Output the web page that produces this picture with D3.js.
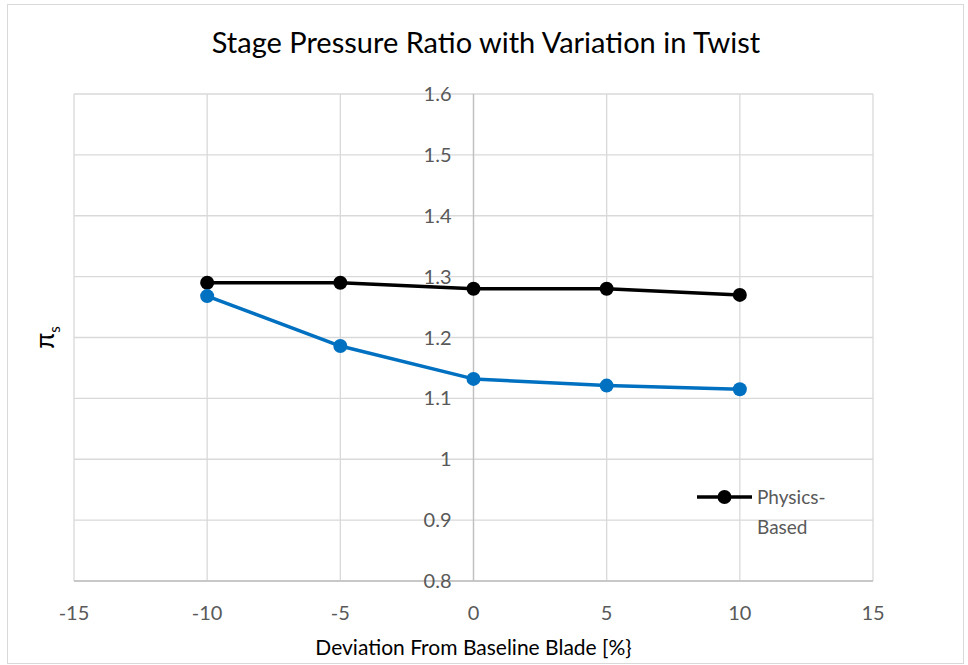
<!DOCTYPE html>
<html>
<head>
<meta charset="utf-8">
<script src="https://cdn.jsdelivr.net/npm/d3@7"></script>
<style>
  body { margin: 0; background: #fff; }
  svg { display: block; font-family: Lato, "Open Sans", sans-serif; }
</style>
</head>
<body>
<svg id="chart" width="968" height="665"></svg>
<script>
const deviation = [-10, -5, 0, 5, 10];
const physicsBased = [1.29, 1.29, 1.28, 1.28, 1.27];
const blueSeries = [1.268, 1.186, 1.132, 1.121, 1.115];
const xTicks = [-15, -10, -5, 0, 5, 10, 15];
const yTicks = [0.8, 0.9, 1, 1.1, 1.2, 1.3, 1.4, 1.5, 1.6];

const width = 968;
const height = 665;
const margin = { left: 74, right: 95, top: 94, bottom: 84 };

const svg = d3.select("#chart");

// outer chart border
svg.append("rect")
  .attr("x", 7.5).attr("y", 4.5)
  .attr("width", 956).attr("height", 659)
  .attr("fill", "#fff")
  .attr("stroke", "#d9d9d9");

const xScale = d3.scaleLinear()
  .domain([-15, 15])
  .range([margin.left, width - margin.right]);

const yScale = d3.scaleLinear()
  .domain([0.8, 1.6])
  .range([height - margin.bottom, margin.top]);

// gridlines
svg.append("g")
  .selectAll("line")
  .data(yTicks)
  .join("line")
  .attr("x1", xScale(-15)).attr("x2", xScale(15))
  .attr("y1", d => yScale(d)).attr("y2", d => yScale(d))
  .attr("stroke", "#d9d9d9").attr("stroke-width", 1.3);

svg.append("g")
  .selectAll("line")
  .data(xTicks)
  .join("line")
  .attr("x1", d => xScale(d)).attr("x2", d => xScale(d))
  .attr("y1", yScale(0.8)).attr("y2", yScale(1.6))
  .attr("stroke", "#d9d9d9").attr("stroke-width", 1.3);

// axes lines (y axis crosses at x = 0)
svg.append("line")
  .attr("x1", xScale(-15)).attr("x2", xScale(15))
  .attr("y1", yScale(0.8)).attr("y2", yScale(0.8))
  .attr("stroke", "#bfbfbf").attr("stroke-width", 1.3);

svg.append("line")
  .attr("x1", xScale(0)).attr("x2", xScale(0))
  .attr("y1", yScale(0.8)).attr("y2", yScale(1.6))
  .attr("stroke", "#bfbfbf").attr("stroke-width", 1.3);

// tick labels
svg.append("g")
  .selectAll("text")
  .data(xTicks)
  .join("text")
  .attr("x", d => xScale(d))
  .attr("y", yScale(0.8) + 39)
  .attr("text-anchor", "middle")
  .attr("fill", "#595959")
  .attr("font-size", 20)
  .text(d => d);

svg.append("g")
  .selectAll("text")
  .data(yTicks)
  .join("text")
  .attr("x", xScale(0) - 22)
  .attr("y", d => yScale(d))
  .attr("dy", "0.35em")
  .attr("text-anchor", "end")
  .attr("fill", "#595959")
  .attr("font-size", 20)
  .text(d => d);

// title + axis titles
svg.append("text")
  .attr("x", 486).attr("y", 53)
  .attr("text-anchor", "middle")
  .attr("fill", "#000")
  .attr("font-size", 29)
  .text("Stage Pressure Ratio with Variation in Twist");

svg.append("text")
  .attr("x", xScale(0)).attr("y", 655)
  .attr("text-anchor", "middle")
  .attr("fill", "#000")
  .attr("font-size", 21)
  .text("Deviation From Baseline Blade [%}");

const yTitle = svg.append("text")
  .attr("transform", `translate(54, ${yScale(1.2)}) rotate(-90)`)
  .attr("text-anchor", "middle")
  .attr("fill", "#000")
  .attr("font-size", 26);
yTitle.append("tspan").text("π");
yTitle.append("tspan").attr("font-size", 15).attr("dy", 6).text("s");

// series
const line = d3.line()
  .x((d, i) => xScale(deviation[i]))
  .y(d => yScale(d));

function drawSeries(values, color) {
  svg.append("path")
    .datum(values)
    .attr("fill", "none")
    .attr("stroke", color)
    .attr("stroke-width", 3.5)
    .attr("stroke-linejoin", "round")
    .attr("d", line);
  svg.append("g")
    .selectAll("circle")
    .data(values)
    .join("circle")
    .attr("cx", (d, i) => xScale(deviation[i]))
    .attr("cy", d => yScale(d))
    .attr("r", 7)
    .attr("fill", color);
}

drawSeries(physicsBased, "#000");
drawSeries(blueSeries, "#0070c0");

// legend
const legend = svg.append("g").attr("transform", "translate(697, 497)");
legend.append("line")
  .attr("x1", 0).attr("x2", 55)
  .attr("stroke", "#000").attr("stroke-width", 3.5);
legend.append("circle")
  .attr("cx", 27.5).attr("r", 7).attr("fill", "#000");
legend.append("text")
  .attr("x", 60).attr("y", 0).attr("dy", "0.35em")
  .attr("fill", "#595959").attr("font-size", 19)
  .text("Physics-");
legend.append("text")
  .attr("x", 60).attr("y", 30).attr("dy", "0.35em")
  .attr("fill", "#595959").attr("font-size", 19)
  .text("Based");
</script>
</body>
</html>
